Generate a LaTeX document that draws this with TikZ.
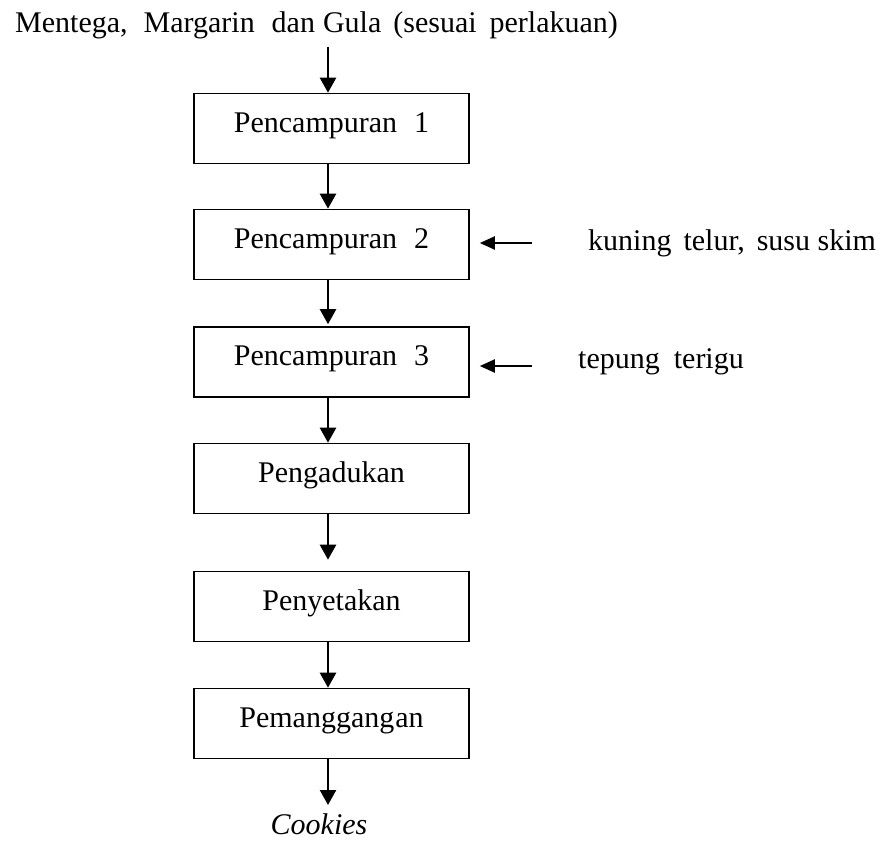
\documentclass[tikz,border=0pt]{standalone}
\usepackage{fontspec}
\setmainfont{Liberation Serif}
\usetikzlibrary{arrows.meta}
\begin{document}
\begin{tikzpicture}[x=1pt,y=-1pt,
  every node/.style={font=\fontsize{30}{36}\selectfont},
  stepbox/.style={draw, line width=1.6pt, minimum width=275pt, minimum height=70pt,
    inner sep=0pt, text height=20pt, text depth=13pt},
  plain/.style={inner sep=0pt},
  varrow/.style={line width=2.4pt, -{Triangle[width=16pt,length=15pt]}},
  harrow/.style={line width=2pt, -{Triangle[width=13pt,length=15pt]}}]
\useasboundingbox (0,0) rectangle (894,851);
\fill[white] (0,0) rectangle (894,851);

\node[plain, anchor=base west] (title) at (15,33)
  {Mentega,\hspace{16pt}Margarin\hspace{17pt}dan\hspace{8pt}Gula\hspace{12pt}(sesuai\hspace{13pt}perlakuan)};

\node[stepbox] (b1) at (331.5,128.5) {Pencampuran\hspace{17pt}1};
\node[stepbox] (b2) at (331.5,244.5) {Pencampuran\hspace{17pt}2};
\node[stepbox] (b3) at (331.5,362) {Pencampuran\hspace{17pt}3};
\node[stepbox] (b4) at (331.5,478.5) {Pengadukan};
\node[stepbox] (b5) at (331.5,606.5) {Penyetakan};
\node[stepbox] (b6) at (331.5,723.5) {Pemanggang\hspace{1pt}an};

\node[plain, anchor=base west] (kuning) at (588,250)
  {kuning\hspace{12pt}telur,\hspace{12pt}susu skim};
\node[plain, anchor=base west] (tepung) at (578,368)
  {tepung\hspace{14pt}terigu};
\node[plain, anchor=base, font=\fontsize{30}{36}\selectfont\itshape] (cookies) at (319,834) {Cookies};

\coordinate (tstart) at (328,47);
\coordinate (cend) at (328,805);
\coordinate (kstart) at (532,243);
\coordinate (tpstart) at (532,366);

\draw[varrow] (tstart) -- ([xshift=-3.5pt]b1.north);
\draw[varrow] ([xshift=-3.5pt]b1.south) -- ([xshift=-3.5pt]b2.north);
\draw[varrow, shorten >=2pt] ([xshift=-3.5pt]b2.south) -- ([xshift=-3.5pt]b3.north);
\draw[varrow] ([xshift=-3.5pt]b3.south) -- ([xshift=-3.5pt]b4.north);
\draw[varrow, shorten >=11pt] ([xshift=-3.5pt]b4.south) -- ([xshift=-3.5pt]b5.north);
\draw[varrow] ([xshift=-3.5pt]b5.south) -- ([xshift=-3.5pt]b6.north);
\draw[varrow] ([xshift=-3.5pt]b6.south) -- (cend);

\draw[harrow, shorten >=10pt] (kstart) -- (b2.east |- kstart);
\draw[harrow, shorten >=10pt] (tpstart) -- (b3.east |- tpstart);
\end{tikzpicture}
\end{document}
